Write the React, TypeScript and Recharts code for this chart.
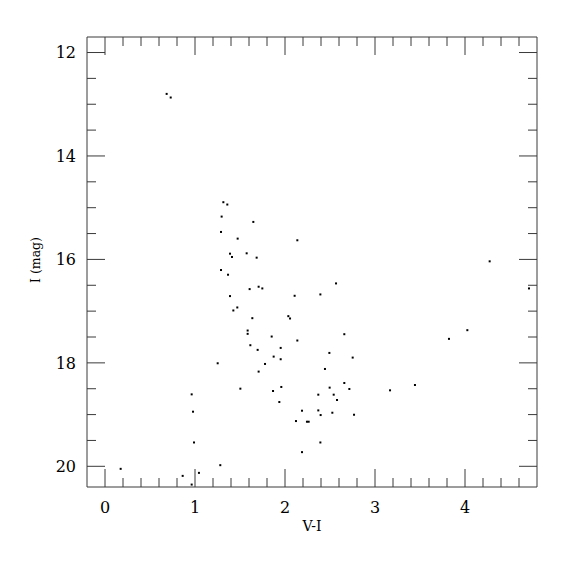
import React from 'react';
import { ScatterChart, Scatter, XAxis, YAxis } from 'recharts';

// V-I colour of each star
const vi = [
  0.685, 0.73, 1.315, 1.359, 1.296, 1.648, 1.289, 1.474, 2.137, 1.389,
  1.411, 1.574, 1.685, 4.274, 1.289, 1.367, 2.567, 1.607, 1.707, 1.748,
  4.711, 1.389, 2.107, 2.393, 1.47, 1.426, 1.637, 2.037, 2.056, 1.585,
  1.585, 1.852, 2.659, 4.026, 3.822, 2.137, 1.615, 1.952, 1.696, 2.493,
  1.874, 1.952, 2.752, 1.252, 1.778, 1.707, 2.444, 1.504, 1.867, 1.959,
  2.496, 2.659, 2.715, 3.167, 3.444, 0.963, 2.37, 2.541, 2.578, 1.937,
  0.978, 2.189, 2.37, 2.396, 2.526, 2.767, 2.122, 2.244, 2.263, 0.989,
  2.393, 2.189, 1.281, 0.174, 0.863, 1.044, 0.963,
];
// I magnitude of each star
const imag = [
  12.8, 12.87, 14.894, 14.939, 15.172, 15.275, 15.469, 15.598, 15.63, 15.889,
  15.953, 15.882, 15.966, 16.037, 16.205, 16.296, 16.464, 16.574, 16.528, 16.561,
  16.561, 16.709, 16.703, 16.677, 16.929, 16.987, 17.136, 17.097, 17.142, 17.375,
  17.439, 17.491, 17.446, 17.368, 17.536, 17.568, 17.659, 17.711, 17.749, 17.808,
  17.879, 17.93, 17.898, 18.008, 18.021, 18.169, 18.118, 18.499, 18.544, 18.466,
  18.479, 18.389, 18.505, 18.531, 18.428, 18.609, 18.615, 18.615, 18.718, 18.757,
  18.944, 18.925, 18.919, 19.009, 18.964, 19.003, 19.125, 19.138, 19.138, 19.539,
  19.539, 19.726, 19.978, 20.049, 20.185, 20.127, 20.353,
];

const xTicks = [0, 0.2, 0.4, 0.6, 0.8, 1, 1.2, 1.4, 1.6, 1.8, 2, 2.2, 2.4, 2.6, 2.8, 3, 3.2, 3.4, 3.6, 3.8, 4, 4.2, 4.4, 4.6];
const xMajor = [0, 1, 2, 3, 4];
const yTicks = [12, 12.5, 13, 13.5, 14, 14.5, 15, 15.5, 16, 16.5, 17, 17.5, 18, 18.5, 19, 19.5, 20];
const yMajor = [12, 14, 16, 18, 20];
const xDomain = [-0.2, 4.8];
const yDomain = [11.7, 20.4];

const data = vi.map((x, i) => ({ x, y: imag[i] }));

const FONT = '"DejaVu Serif", "Liberation Serif", serif';
const INK = '#3a3a3a';
const MAJ = 18;
const MIN = 9;

const isMajor = (v: number, majors: number[]) => majors.some((m) => Math.abs(m - v) < 1e-6);

const BottomTick = (props: any) => {
  const { x, y, payload } = props;
  const major = isMajor(payload.value, xMajor);
  return (
    <g>
      <line x1={x} y1={y} x2={x} y2={y - (major ? MAJ : MIN)} stroke={INK} strokeWidth={1} />
      {major && (
        <text x={x} y={y + 26} textAnchor="middle" fontSize={16} fontFamily={FONT} fill="#000">
          {payload.value}
        </text>
      )}
    </g>
  );
};

const TopTick = (props: any) => {
  const { x, y, payload } = props;
  const major = isMajor(payload.value, xMajor);
  return <line x1={x} y1={y} x2={x} y2={y + (major ? MAJ : MIN)} stroke={INK} strokeWidth={1} />;
};

const LeftTick = (props: any) => {
  const { x, y, payload } = props;
  const major = isMajor(payload.value, yMajor);
  return (
    <g>
      <line x1={x} y1={y} x2={x + (major ? MAJ : MIN)} y2={y} stroke={INK} strokeWidth={1} />
      {major && (
        <text x={x - 11} y={y} dy="0.36em" textAnchor="end" fontSize={16} fontFamily={FONT} fill="#000">
          {payload.value}
        </text>
      )}
    </g>
  );
};

const RightTick = (props: any) => {
  const { x, y, payload } = props;
  const major = isMajor(payload.value, yMajor);
  return <line x1={x} y1={y} x2={x - (major ? MAJ : MIN)} y2={y} stroke={INK} strokeWidth={1} />;
};

const XLabel = (props: any) => {
  const vb = props.viewBox || {};
  return (
    <text x={vb.x + vb.width / 2} y={vb.y + 44} textAnchor="middle" fontSize={14} fontFamily={FONT} fill="#000">
      V-I
    </text>
  );
};

const YLabel = (props: any) => {
  const vb = props.viewBox || {};
  const cx = vb.x + 8;
  const cy = vb.y + vb.height / 2 - 2;
  return (
    <text
      x={cx}
      y={cy}
      transform={`rotate(-90 ${cx} ${cy})`}
      textAnchor="middle"
      dominantBaseline="central"
      fontSize={12.5}
      fontFamily={FONT}
      fill="#000"
    >
      I (mag)
    </text>
  );
};

const Dot = (props: any) => {
  const { cx, cy } = props;
  return <rect x={cx - 1} y={cy - 1} width={2} height={2} fill="#000" />;
};

const NoDot = () => <g />;

export default function App() {
  return (
    <div style={{ width: 559, height: 559, background: '#fff' }}>
      <ScatterChart width={559} height={559} margin={{ top: 28, right: 29, bottom: 20, left: 19 }}>
        <XAxis
          xAxisId="bottom"
          dataKey="x"
          type="number"
          orientation="bottom"
          domain={xDomain}
          allowDataOverflow
          ticks={xTicks}
          interval={0}
          height={60}
          tickSize={0}
          tickMargin={0}
          tickLine={false}
          tick={<BottomTick />}
          axisLine={{ stroke: INK, strokeWidth: 1 }}
          label={<XLabel />}
        />
        <XAxis
          xAxisId="top"
          dataKey="x"
          type="number"
          orientation="top"
          domain={xDomain}
          allowDataOverflow
          ticks={xTicks}
          interval={0}
          height={1}
          tickSize={0}
          tickMargin={0}
          tickLine={false}
          tick={<TopTick />}
          axisLine={{ stroke: INK, strokeWidth: 1 }}
        />
        <YAxis
          yAxisId="left"
          dataKey="y"
          type="number"
          orientation="left"
          reversed
          domain={yDomain}
          allowDataOverflow
          ticks={yTicks}
          interval={0}
          width={60}
          tickSize={0}
          tickMargin={0}
          tickLine={false}
          tick={<LeftTick />}
          axisLine={{ stroke: INK, strokeWidth: 1 }}
          label={<YLabel />}
        />
        <YAxis
          yAxisId="right"
          dataKey="y"
          type="number"
          orientation="right"
          reversed
          domain={yDomain}
          allowDataOverflow
          ticks={yTicks}
          interval={0}
          width={1}
          tickSize={0}
          tickMargin={0}
          tickLine={false}
          tick={<RightTick />}
          axisLine={{ stroke: INK, strokeWidth: 1 }}
        />
        <Scatter
          data={data}
          xAxisId="top"
          yAxisId="right"
          shape={<NoDot />}
          isAnimationActive={false}
        />
        <Scatter
          data={data}
          xAxisId="bottom"
          yAxisId="left"
          shape={<Dot />}
          isAnimationActive={false}
        />
      </ScatterChart>
    </div>
  );
}
